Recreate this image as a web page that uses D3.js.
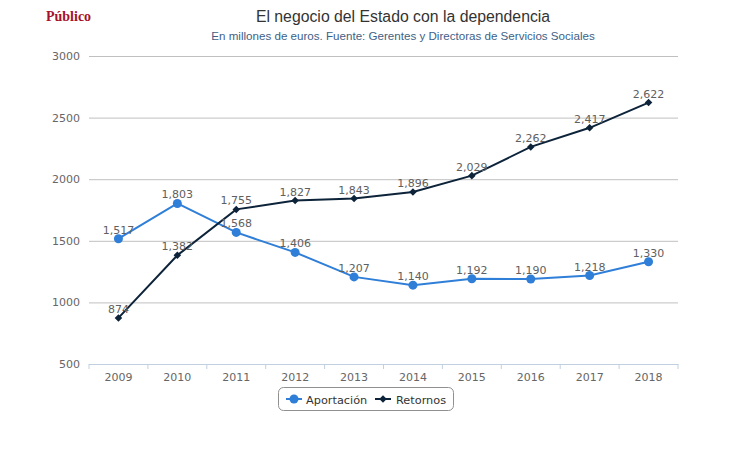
<!DOCTYPE html>
<html><head><meta charset="utf-8">
<script src="https://cdn.jsdelivr.net/npm/d3@7"></script>
<style>body{margin:0;background:#fff}svg{display:block}</style>
</head><body>
<script>
const years = ["2009","2010","2011","2012","2013","2014","2015","2016","2017","2018"];
const aportacion = [1517,1803,1568,1406,1207,1140,1192,1190,1218,1330];
const retornos = [874,1382,1755,1827,1843,1896,2029,2262,2417,2622];
const yTicks = [500,1000,1500,2000,2500,3000];
const seriesNames = ["Aportación","Retornos"];
const seriesColors = ["#2f7ed8","#0d233a"];

(function(){
const W=730,H=450;
const svg=d3.select("body").append("svg").attr("width",W).attr("height",H);
const pL=89,pR=678,pT=56,pB=364;
const x=d3.scaleBand().domain(years).range([pL,pR]);
const y=d3.scaleLinear().domain([500,3000]).range([pB,pT]);
const cx=d=>x(d)+x.bandwidth()/2;

svg.append("text").attr("x",46).attr("y",21).text("Público")
 .attr("font-family","Liberation Serif").attr("font-weight","bold").attr("font-size",14).attr("fill","#a5112a");
svg.append("text").attr("x",403).attr("y",22).attr("text-anchor","middle")
 .text("El negocio del Estado con la dependencia")
 .attr("font-family","Liberation Sans, Arial").attr("font-size",15.8).attr("fill","#333");
svg.append("text").attr("x",403).attr("y",40).attr("text-anchor","middle")
 .text("En millones de euros. Fuente: Gerentes y Directoras de Servicios Sociales")
 .attr("font-family","Liberation Sans, Arial").attr("font-size",11.6).attr("fill","#3e5f87");

// grid
const ya=svg.append("g").attr("transform",`translate(${pL},0)`)
 .call(d3.axisLeft(y).tickValues(yTicks).tickSize(-(pR-pL)).tickPadding(9).tickFormat(d3.format("d")));
ya.select(".domain").remove();
ya.selectAll(".tick line").attr("stroke","#c0c0c0");
ya.selectAll(".tick text").attr("font-family","DejaVu Sans").attr("font-size",11).attr("fill","#666");

// x axis
const xa=svg.append("g").attr("transform",`translate(0,${pB})`)
 .call(d3.axisBottom(x).tickSize(0).tickPadding(9));
xa.select(".domain").attr("stroke","#c0d0e0");
xa.selectAll(".tick text").attr("font-family","DejaVu Sans").attr("font-size",11).attr("fill","#666");
svg.append("g").selectAll("line").data(years.concat(["end"])).join("line")
 .attr("x1",(d,i)=>pL+i*x.step()).attr("x2",(d,i)=>pL+i*x.step())
 .attr("y1",pB).attr("y2",pB+5).attr("stroke","#c0d0e0");

const series=[aportacion,retornos];
const line=d3.line().x((d,i)=>cx(years[i])).y(d=>y(d));
series.forEach((vals,si)=>{
  const g=svg.append("g");
  g.append("path").attr("d",line(vals)).attr("fill","none").attr("stroke",seriesColors[si]).attr("stroke-width",2);
  if(si===0){
    g.selectAll("circle").data(vals).join("circle").attr("cx",(d,i)=>cx(years[i])).attr("cy",d=>y(d)).attr("r",4.5).attr("fill",seriesColors[si]);
  } else {
    g.selectAll("path.m").data(vals).join("path").attr("class","m")
     .attr("d",d3.symbol(d3.symbolDiamond2,36)).attr("transform",(d,i)=>`translate(${cx(years[i])},${y(d)})`).attr("fill",seriesColors[si]);
  }
});
series.forEach((vals,si)=>{
  svg.append("g").selectAll("text").data(vals).join("text")
   .attr("x",(d,i)=>cx(years[i])).attr("y",d=>y(d)-5).attr("text-anchor","middle")
   .attr("font-family","DejaVu Sans").attr("font-size",11).attr("fill","#606060")
   .text(d=>d3.format(",")(d));
});

// legend
const lg=svg.append("g");
lg.append("rect").attr("x",278.5).attr("y",387.5).attr("width",175).attr("height",23).attr("rx",5)
 .attr("fill","#fff").attr("stroke","#909090");
const items=[{x:286,tx:306},{x:375,tx:396}];
items.forEach((it,si)=>{
  lg.append("line").attr("x1",it.x).attr("x2",it.x+16).attr("y1",399).attr("y2",399).attr("stroke",seriesColors[si]).attr("stroke-width",2);
  if(si===0) lg.append("circle").attr("cx",it.x+8).attr("cy",399).attr("r",4.5).attr("fill",seriesColors[si]);
  else lg.append("path").attr("d",d3.symbol(d3.symbolDiamond2,36)).attr("transform",`translate(${it.x+8},399)`).attr("fill",seriesColors[si]);
  lg.append("text").attr("x",it.tx).attr("y",403.5).text(seriesNames[si])
   .attr("font-family","DejaVu Sans").attr("font-size",11.3).attr("fill","#333");
});
})();
</script>
</body></html>
